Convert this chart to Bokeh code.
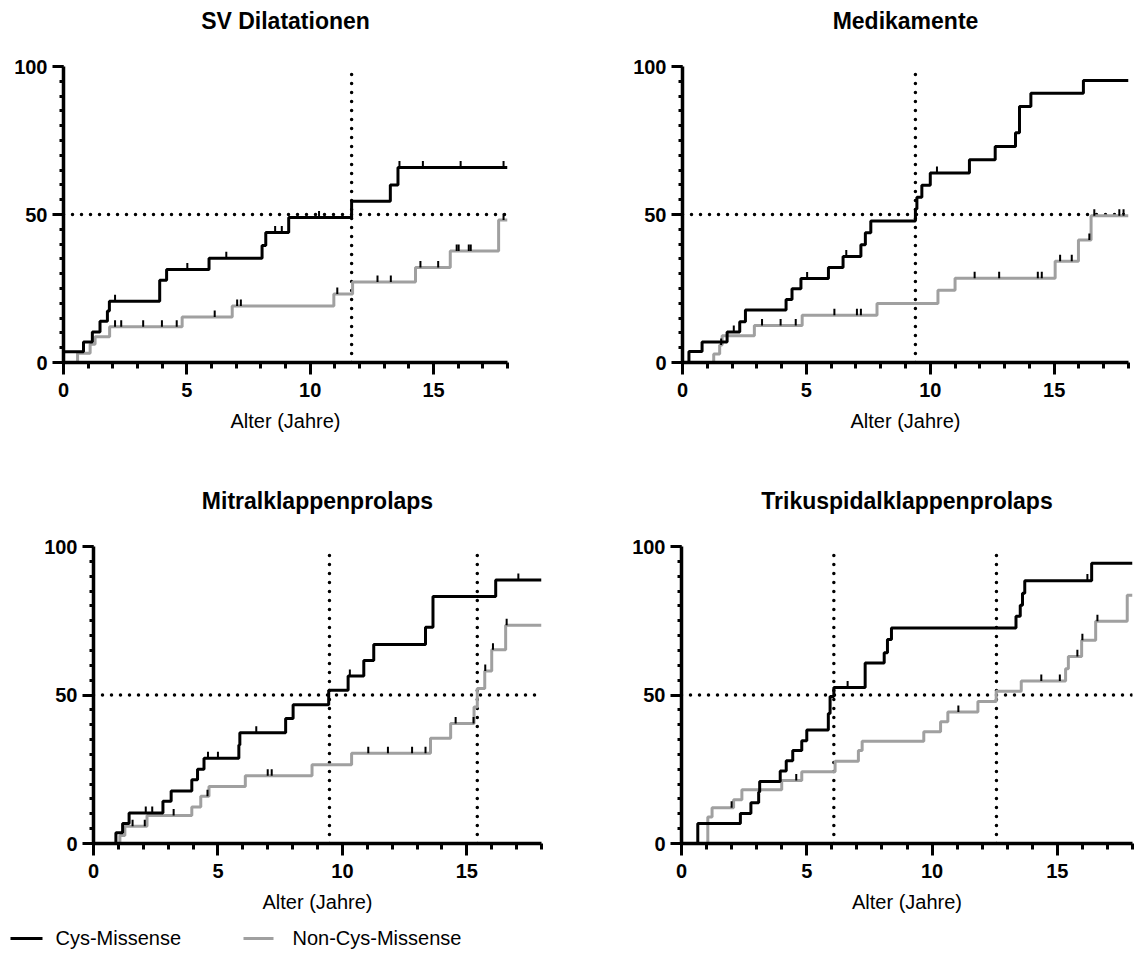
import numpy as np
from bokeh.plotting import figure
from bokeh.models import FixedTicker, Range1d, Title
from bokeh.layouts import column, row
from bokeh.embed import file_html
from bokeh.resources import INLINE
from bokeh.core.properties import value

# ---------------- data ----------------
X_MAX = 18
Y_MAX = 100
level_50 = 50
x_ticks = [0, 5, 10, 15]
x_minor = list(range(0, 19))
y_ticks = [0, 50, 100]
y_minor = list(range(0, 101, 5))
series_names = ["Cys-Missense", "Non-Cys-Missense"]
x_label = "Alter (Jahre)"
titles = ["SV Dilatationen", "Medikamente", "Mitralklappenprolaps", "Trikuspidalklappenprolaps"]

# SV Dilatationen
sv_cys_t = [0.0, 0.81, 1.17, 1.48, 1.78, 1.86, 3.9, 4.18, 5.9, 8.05, 8.2, 9.13, 11.68, 13.25, 13.56]
sv_cys_y = [3.6, 6.9, 10.3, 13.9, 17.4, 20.7, 27.8, 31.4, 35.2, 39.5, 43.9, 49.0, 54.5, 60.0, 65.9]
sv_cys_c = [2.09, 5.02, 6.6, 8.58, 8.85, 10.36, 13.62, 14.57, 16.1, 17.84]
sv_non_t = [0.57, 1.08, 1.28, 1.87, 4.81, 6.84, 10.96, 11.72, 14.27, 15.68, 17.64]
sv_non_y = [3.1, 6.2, 8.7, 12.1, 15.4, 19.1, 23.1, 27.2, 32.1, 37.7, 48.1]
sv_non_c = [2.09, 2.34, 3.23, 3.99, 4.59, 6.13, 7.04, 7.19, 11.1, 12.73, 13.27, 14.47, 15.19,
            15.94, 16.02, 16.43, 16.51, 17.84]
sv_medians = [11.68]

# Medikamente
med_cys_t = [0.26, 0.79, 1.8, 2.31, 2.54, 4.18, 4.42, 4.78, 5.89, 6.48, 7.2, 7.38, 7.6,
             9.4, 9.46, 9.66, 10.0, 11.58, 12.62, 13.44, 13.6, 14.06, 16.18]
med_cys_y = [3.7, 6.9, 10.3, 13.8, 17.7, 21.3, 24.9, 28.4, 32.1, 35.8, 39.8, 43.8, 47.8,
             51.9, 55.8, 59.9, 64.0, 68.5, 73.0, 77.6, 86.5, 91.0, 95.3]
med_cys_c = [2.07, 5.03, 6.61, 10.27]
med_non_t = [1.26, 1.5, 1.6, 2.9, 4.83, 7.85, 10.31, 11.0, 15.04, 15.98, 16.49]
med_non_y = [2.9, 5.9, 9.0, 12.5, 16.0, 19.9, 24.4, 28.5, 34.2, 41.4, 49.6]
med_non_c = [1.56, 3.21, 3.96, 4.57, 6.13, 7.04, 7.2, 11.79, 12.78, 14.34, 14.5, 15.24, 15.71,
             16.42, 16.62, 17.63, 17.8]
med_medians = [9.4]

# Mitralklappenprolaps
mk_cys_t = [0.9, 1.17, 1.43, 2.79, 3.12, 3.95, 4.18, 4.44, 5.84, 5.88, 7.72, 8.02, 9.45, 10.23,
            10.86, 11.26, 13.34, 13.64, 16.16]
mk_cys_y = [3.6, 6.7, 10.3, 14.2, 17.7, 21.5, 25.0, 28.7, 33.2, 37.3, 42.1, 46.7, 51.6, 56.4,
            61.6, 67.0, 72.8, 83.2, 88.7]
mk_cys_c = [2.1, 2.36, 4.6, 5.0, 6.54, 10.3, 17.07]
mk_non_t = [1.06, 1.26, 2.15, 3.95, 4.31, 4.64, 6.1, 8.78, 10.37, 13.54, 14.35, 15.29, 15.42,
            15.72, 16.0, 16.56]
mk_non_y = [2.7, 5.8, 9.4, 12.3, 15.9, 19.2, 22.8, 26.5, 30.4, 35.4, 40.4, 46.0, 52.2,
            58.1, 65.2, 73.5]
mk_non_c = [1.57, 2.06, 3.22, 4.58, 7.0, 7.16, 11.04, 11.83, 12.8, 13.34, 14.55, 15.27, 15.74,
            16.05, 16.6]
mk_medians = [9.48, 15.42]

# Trikuspidalklappenprolaps
tk_cys_t = [0.65, 2.35, 2.77, 3.08, 3.12, 3.94, 4.18, 4.44, 4.8, 5.0, 5.86, 5.93, 6.08, 7.33,
            8.09, 8.22, 8.38, 13.35, 13.52, 13.61, 13.7, 16.37]
tk_cys_y = [6.7, 10.1, 13.7, 17.3, 20.9, 24.4, 27.9, 31.3, 34.6, 38.2, 43.8, 49.5, 52.5, 60.8,
            64.2, 68.7, 72.6, 76.5, 80.2, 84.3, 88.5, 94.4]
tk_cys_c = [6.63, 16.2]
tk_non_t = [1.05, 1.22, 2.08, 2.41, 4.0, 4.8, 6.13, 7.06, 7.21, 9.67, 10.34, 10.63, 11.83,
            12.56, 13.56, 15.33, 15.44, 15.97, 16.53, 17.79]
tk_non_y = [8.9, 12.0, 14.7, 18.1, 21.2, 24.2, 27.7, 31.3, 34.4, 37.6, 41.0, 44.3, 47.8,
            51.3, 54.7, 58.8, 63.0, 68.4, 74.8, 83.6]
tk_non_c = [2.0, 4.58, 11.05, 14.36, 15.1, 15.8, 16.0, 16.6]
tk_medians = [6.08, 12.57]

# ---------------- styling ----------------
BLACK = "#000000"
GRAY = "#a0a0a0"
FONT = "Liberation Sans"


def step_xy(t, v):
    xs = [0.0] + list(t) + [X_MAX]
    ys = [0.0] + list(v) + [v[-1]]
    return xs, ys


def censor_vals(t, v, c):
    t = np.asarray(t)
    v = np.asarray(v)
    idx = np.searchsorted(t, np.asarray(c), side="right") - 1
    return np.where(idx >= 0, v[np.clip(idx, 0, None)], 0.0)


def make_panel(title, cys, non, medians, width, height, bl, br, bt, bb):
    p = figure(width=width, height=height, x_range=Range1d(0, X_MAX), y_range=Range1d(0, Y_MAX),
               output_backend="svg", toolbar_location=None, title=None,
               min_border_left=bl, min_border_right=br, min_border_top=bt, min_border_bottom=bb)
    p.outline_line_color = None
    p.grid.visible = False
    p.background_fill_color = "white"
    p.border_fill_color = "white"

    # spacer between frame and title, then the title itself
    p.add_layout(Title(text=" ", text_font_size="1px", standoff=30), "above")
    p.add_layout(Title(text=title, align="center", text_font=FONT, text_font_size="23px",
                       text_font_style="bold", text_color=BLACK, standoff=0), "above")

    xa = p.xaxis[0]
    xa.ticker = FixedTicker(ticks=x_ticks, minor_ticks=x_minor)
    xa.axis_label = x_label
    xa.axis_label_text_font = FONT
    xa.axis_label_text_font_size = "20px"
    xa.axis_label_text_font_style = "normal"
    xa.axis_label_text_color = BLACK
    xa.axis_label_standoff = 10
    xa.major_tick_out = 12
    xa.minor_tick_out = 6
    xa.major_label_standoff = 8

    ya = p.yaxis[0]
    ya.ticker = FixedTicker(ticks=y_ticks, minor_ticks=y_minor)
    ya.major_tick_out = 11
    ya.minor_tick_out = 4
    ya.major_label_standoff = 5

    for ax in (xa, ya):
        ax.axis_line_width = 3.5
        ax.axis_line_color = BLACK
        ax.major_tick_line_width = 3
        ax.minor_tick_line_width = 3
        ax.major_tick_line_color = BLACK
        ax.minor_tick_line_color = BLACK
        ax.major_tick_in = 0
        ax.minor_tick_in = 0
        ax.major_label_text_font = FONT
        ax.major_label_text_font_size = "20px"
        ax.major_label_text_font_style = "bold"
        ax.major_label_text_color = BLACK

    # reference lines (dotted)
    p.line([0, X_MAX], [level_50, level_50], line_color=BLACK, line_width=3.5,
           line_dash="0 9", line_cap="round")
    p.segment(x0=medians, y0=[0] * len(medians), x1=medians, y1=[Y_MAX] * len(medians),
              line_color=BLACK, line_width=3.5, line_dash="0 9", line_cap="round")

    for (t, v, c), col in ((non, GRAY), (cys, BLACK)):
        xs, ys = step_xy(t, v)
        p.step(xs, ys, mode="after", line_color=col, line_width=3)
        cv = censor_vals(t, v, c)
        p.segment(x0=c, y0=cv, x1=c, y1=cv + 2.2, line_color=BLACK, line_width=2)
    return p


p1 = make_panel(titles[0], (sv_cys_t, sv_cys_y, sv_cys_c), (sv_non_t, sv_non_y, sv_non_c),
                sv_medians, 600, 470, 63, 93, 66, 107)
p2 = make_panel(titles[1], (med_cys_t, med_cys_y, med_cys_c), (med_non_t, med_non_y, med_non_c),
                med_medians, 535, 470, 82, 7, 65, 108)
p3 = make_panel(titles[2], (mk_cys_t, mk_cys_y, mk_cys_c), (mk_non_t, mk_non_y, mk_non_c),
                mk_medians, 600, 455, 93, 59, 76, 81)
p4 = make_panel(titles[3], (tk_cys_t, tk_cys_y, tk_cys_c), (tk_non_t, tk_non_y, tk_non_c),
                tk_medians, 535, 455, 81, 3, 75, 82)

# legend row
leg = figure(width=1135, height=30, x_range=Range1d(0, 1135), y_range=Range1d(0, 30),
             output_backend="svg", toolbar_location=None, x_axis_type=None, y_axis_type=None,
             min_border=0)
leg.outline_line_color = None
leg.grid.visible = False
leg.segment(x0=[10, 243], y0=[17, 17], x1=[42, 273], y1=[17, 17],
            line_color=[BLACK, GRAY], line_width=3)
leg.text(x=[55, 292], y=[18, 18], text=series_names, text_baseline="middle",
         text_font=value(FONT), text_font_size="20px", text_color=BLACK)

layout = column(row(p1, p2), row(p3, p4), leg)
open("out.html", "w").write(file_html(layout, INLINE))
